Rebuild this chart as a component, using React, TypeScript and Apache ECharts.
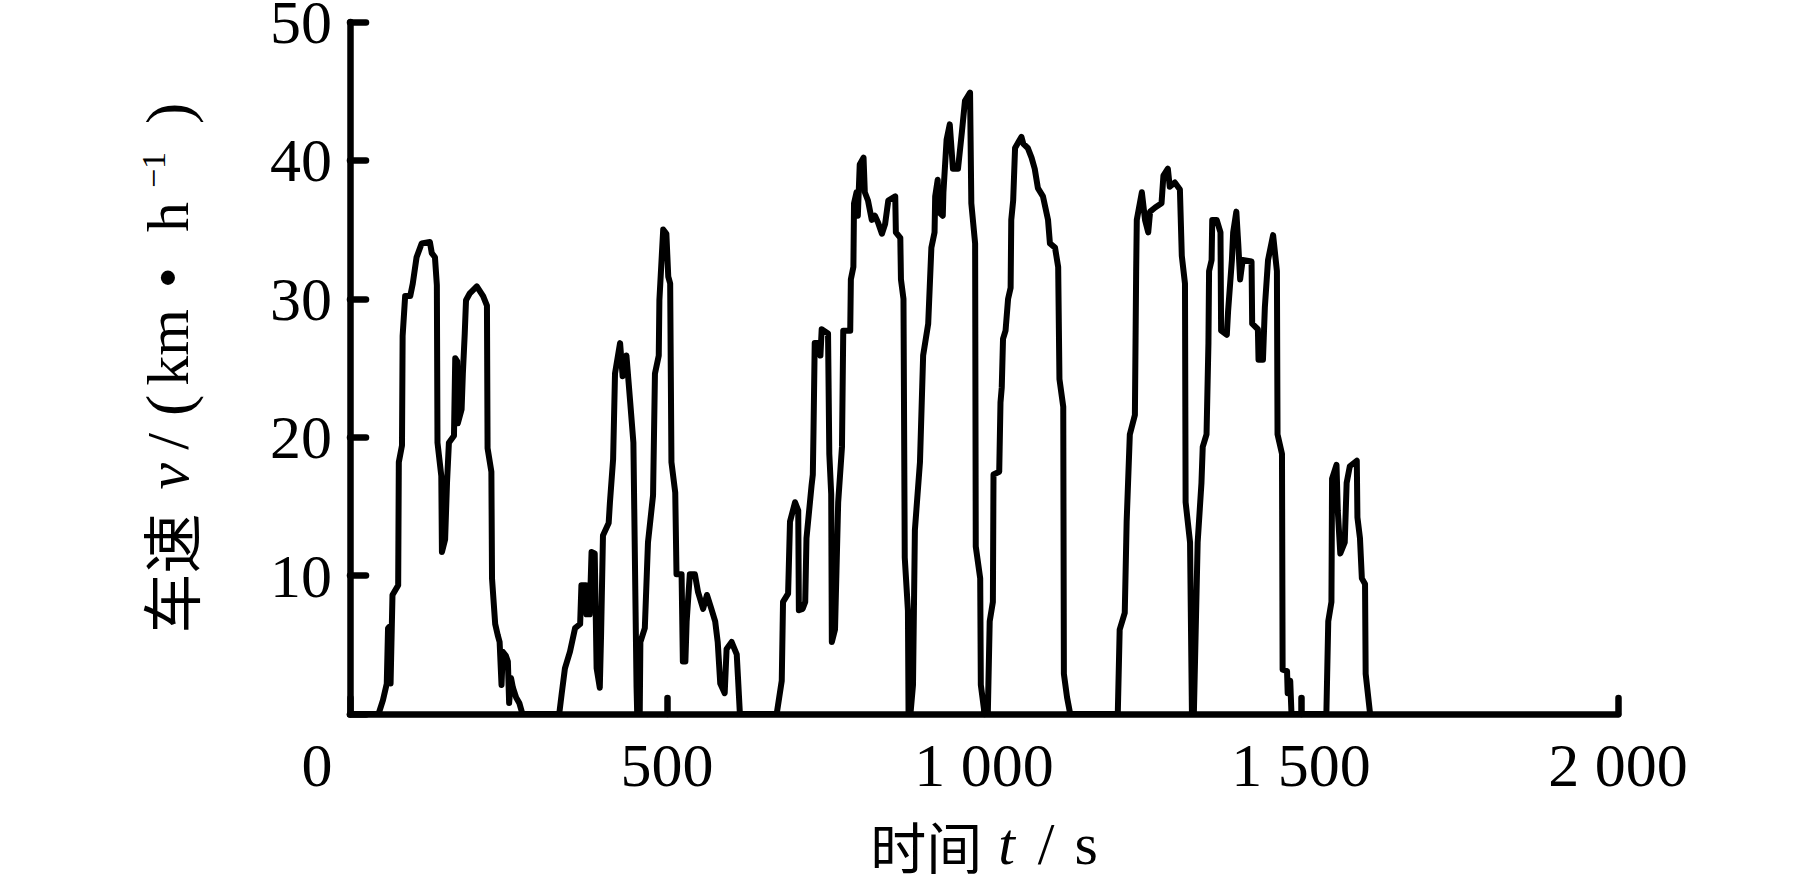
import React, { useEffect, useRef } from 'react';
import * as echarts from 'echarts';

// Driving-cycle speed trace, [time s, speed km/h], one array per trip
const trip1: [number, number][] = [
  [0, 0], [45, 0], [52, 1], [58, 2.2], [60, 6.2], [62, 6.3], [64, 2.2], [67, 8.6], [76, 9.3], [77, 18.2],
  [82, 19.4], [83, 27.3], [87, 30.2], [95, 30.2], [99, 31.1], [105, 33], [113, 34], [126, 34.1], [129, 33.3], [134, 33],
  [137, 31], [138, 19.6], [144, 17.2], [145, 11.7], [150, 12.6], [153, 16.7], [156, 19.6], [164, 20.1], [166, 25.7], [169, 25.5],
  [170, 21], [176, 22], [178, 24.6], [181, 27.5], [183, 29.9], [189, 30.4], [200, 30.9], [210, 30.2], [216, 29.5], [217, 19.2],
  [223, 17.5], [224, 9.8], [229, 6.5], [233, 5.7], [236, 5.2], [239, 2.1], [241, 4.5], [246, 4.2], [249, 3.8], [251, 0.8],
  [254, 2.6], [257, 1.9], [262, 1.2], [267, 0.8], [272, 0],
];
const trip2: [number, number][] = [
  [330, 0], [334, 1.5], [339, 3.3], [347, 4.5], [355, 6.2], [363, 6.5], [365, 9.3], [372, 9.3], [373, 7.2], [378, 7.2],
  [381, 11.7], [386, 11.6], [389, 3.3], [394, 1.9], [396, 5.7], [399, 12.9], [408, 13.8], [410, 15.3], [415, 18.4], [418, 24.6],
  [426, 26.8], [430, 24.4], [436, 25.9], [442, 22.5], [447, 19.6], [452, 1.9], [453, 0], [457, 0], [458, 5.2], [465, 6.2],
  [470, 12.4], [478, 15.8], [481, 24.6], [487, 25.9], [488, 29.9], [494, 35], [499, 34.7], [502, 31.6], [505, 31.1], [507, 18.2],
  [513, 16], [515, 10.1], [523, 10.1], [525, 3.8], [529, 3.8], [531, 6.7], [536, 10.1], [544, 10.1], [549, 8.8], [557, 7.6],
  [563, 8.6], [570, 7.6], [576, 6.7], [580, 5.2], [584, 2.2], [591, 1.5], [594, 4.7], [602, 5.2], [610, 4.3], [612, 2.6],
  [615, 0],
];
const trip3: [number, number][] = [
  [673, 0], [681, 2.4], [683, 8.1], [691, 8.7], [692, 10.4], [694, 13.9], [702, 15.3], [707, 14.7], [708, 7.5], [714, 7.6],
  [718, 8.1], [720, 12.7], [728, 16.5], [730, 17.3], [731, 20.2], [733, 26.8], [741, 26.8], [742, 25.9], [744, 27.8], [754, 27.5],
  [756, 18.8], [759, 15.9], [760, 5.2], [765, 6.1], [770, 15.3], [776, 19.3], [778, 27.7], [789, 27.7], [790, 31.4], [794, 32.3],
  [795, 36.9], [799, 37.7], [801, 36], [804, 39.7], [810, 40.2], [812, 37.7], [817, 37.1], [823, 35.7], [828, 36], [833, 35.5],
  [839, 34.7], [844, 35.4], [849, 37.1], [860, 37.4], [861, 34.8], [868, 34.4], [869, 31.4], [873, 30], [875, 11.3], [880, 7.5],
  [881, 0],
];
const trip4: [number, number][] = [
  [884, 0], [888, 2.1], [891, 13.3], [899, 18.2], [904, 25.9], [912, 28.2], [917, 33.7], [922, 34.8], [923, 37.4], [927, 38.6],
  [928, 36.3], [935, 36], [936, 37.7], [941, 41.5], [946, 42.6], [951, 39.4], [959, 39.4], [965, 42], [970, 44.3], [978, 44.9],
  [980, 36.9], [986, 34], [987, 12.1], [994, 9.8], [995, 2.1], [1001, 0],
];
const trip5: [number, number][] = [
  [1006, 0], [1009, 6.7], [1014, 8.1], [1015, 17.3], [1024, 17.5], [1026, 22.5], [1028, 23.6], [1030, 27.1], [1034, 27.7], [1038, 30],
  [1042, 30.8], [1043, 35.7], [1046, 37.1], [1049, 40.9], [1059, 41.7], [1062, 41.2], [1069, 40.9], [1075, 40.2], [1080, 39.4], [1085, 38],
  [1093, 37.4], [1101, 35.7], [1104, 34], [1112, 33.7], [1117, 32.3], [1119, 24.2], [1125, 22.2], [1126, 2.9], [1131, 1.2], [1136, 0],
];
const trip6: [number, number][] = [
  [1211, 0], [1214, 6.1], [1222, 7.3], [1225, 13.9], [1230, 20.2], [1238, 21.6], [1240, 32], [1241, 35.7], [1249, 37.7], [1254, 35.7],
  [1259, 34.8], [1262, 36.3], [1270, 36.6], [1280, 36.9], [1283, 38.9], [1290, 39.4], [1293, 38.1], [1301, 38.4], [1309, 37.9], [1312, 33.1],
  [1317, 31.1], [1318, 15.3], [1325, 12.4], [1328, 0],
];
const trip7: [number, number][] = [
  [1331, 0], [1337, 12.4], [1343, 16.7], [1345, 19.3], [1351, 20.2], [1354, 26.8], [1355, 32], [1359, 32.8], [1360, 35.7], [1367, 35.7],
  [1373, 34.8], [1374, 27.7], [1383, 27.4], [1385, 29.1], [1391, 32.8], [1393, 34.8], [1398, 36.3], [1401, 34], [1404, 31.4], [1408, 32.8],
  [1422, 32.7], [1423, 28.2], [1432, 27.8], [1433, 25.6], [1440, 25.6], [1443, 29.4], [1448, 32.8], [1456, 34.6], [1462, 32], [1463, 20.2],
  [1470, 18.8], [1471, 3.2], [1478, 3.1], [1479, 1.5], [1483, 2.4], [1485, 0],
];
const trip8: [number, number][] = [
  [1540, 0], [1543, 6.7], [1548, 8.1], [1549, 17], [1556, 18], [1558, 14.7], [1562, 11.6], [1569, 12.4], [1572, 16.7], [1577, 17.9],
  [1588, 18.3], [1589, 14.2], [1593, 12.7], [1596, 9.8], [1601, 9.4], [1602, 2.9], [1609, 0],
];

const xTickValues = [0, 500, 1000, 1500, 2000];
const xTickLabels = ['0', '500', '1 000', '1 500', '2 000'];
const yTickValues = [0, 10, 20, 30, 40, 50];
const yTickLabels = ['', '10', '20', '30', '40', '50'];

const LATIN = "'Liberation Serif', 'Times New Roman', serif";
const CJK = "'Noto Sans CJK SC', sans-serif";
const TICK_FONT = 62;

export default function App() {
  const ref = useRef<HTMLDivElement>(null);

  useEffect(() => {
    if (!ref.current) return;
    const chart = echarts.init(ref.current, null, { renderer: 'svg' });
    const data = [...trip1, ...trip2, ...trip3, ...trip4, ...trip5, ...trip6, ...trip7, ...trip8];

    const latin = (size: number, lh: number, extra: any = {}) => ({
      fontFamily: LATIN, fontSize: size, color: '#000', lineHeight: lh, ...extra,
    });

    chart.setOption({
      animation: false,
      backgroundColor: '#fff',
      grid: {
        left: 350, right: 201, top: 22, bottom: 169,
        containLabel: false, outerBoundsMode: 'none',
      },
      xAxis: {
        type: 'value', min: 0, max: 2000, interval: 500,
        axisLine: { show: true, onZero: false, lineStyle: { color: '#000', width: 6.5 } },
        axisTick: { show: true, inside: true, length: 16, lineStyle: { color: '#000', width: 6.5, cap: 'round' } },
        splitLine: { show: false },
        axisLabel: {
          margin: 20, color: '#000', fontFamily: LATIN, fontSize: TICK_FONT, lineHeight: TICK_FONT,
          formatter: (v: number) => {
            const i = xTickValues.indexOf(v);
            const s = i >= 0 ? xTickLabels[i] : '';
            return v === 0 ? '{z|' + s + '}' : s;
          },
          rich: { z: { fontFamily: LATIN, fontSize: TICK_FONT, lineHeight: TICK_FONT, color: '#000', padding: [0, 66, 0, 0] } },
        },
        name: '{cn|时间}{t|t}{sl|/}{s|s}',
        nameLocation: 'middle',
        nameGap: 101,
        nameMoveOverlap: false,
        nameTextStyle: {
          rich: {
            cn: { fontFamily: CJK, fontSize: 56, lineHeight: 58, color: '#000', padding: [0, 16, 0, 0] },
            t: latin(60, 58, { fontStyle: 'italic', padding: [0, 23, 0, 0] }),
            sl: latin(60, 58, { padding: [0, 20, 0, 0] }),
            s: latin(60, 58),
          },
        },
      },
      yAxis: {
        type: 'value', min: 0, max: 50, interval: 10,
        axisLine: { show: true, lineStyle: { color: '#000', width: 6.5 } },
        axisTick: { show: true, inside: true, length: 16, lineStyle: { color: '#000', width: 6.5, cap: 'round' } },
        splitLine: { show: false },
        axisLabel: {
          margin: 18, color: '#000', fontFamily: LATIN, fontSize: TICK_FONT, lineHeight: TICK_FONT,
          formatter: (v: number) => {
            const i = yTickValues.indexOf(v);
            return i >= 0 ? yTickLabels[i] : '';
          },
        },
        name: '{cn|车速}{v|v}{sl|/}{pl|(}{km|km}{dot|•}{h|h}{sup|−1}{pr|)}',
        nameLocation: 'middle',
        nameGap: 150,
        nameMoveOverlap: false,
        nameTextStyle: {
          rich: {
            cn: { fontFamily: CJK, fontSize: 60, lineHeight: 64, color: '#000' },
            v: latin(60, 64, { fontStyle: 'italic', padding: [0, 13, 0, 24] }),
            sl: latin(60, 64, { padding: [0, 17, 0, 0] }),
            pl: latin(64, 64, { padding: [0, 9, 0, 0] }),
            km: latin(60, 64, { padding: [0, 21, 0, 0] }),
            dot: latin(60, 64, { padding: [0, 35, 0, 0] }),
            h: latin(60, 64, { padding: [0, 14, 0, 0] }),
            sup: latin(34, 34, { verticalAlign: 'top', padding: [0, 28, 0, 0] }),
            pr: latin(64, 64),
          },
        },
      },
      series: [
        {
          type: 'line',
          data,
          symbol: 'none',
          showSymbol: false,
          clip: false,
          z: 3,
          lineStyle: { color: '#000', width: 6, join: 'round', cap: 'round' },
        },
      ],
    });

    return () => chart.dispose();
  }, []);

  return (
    <div
      ref={ref}
      style={{ position: 'fixed', left: 0, top: 0, width: 1819, height: 883, background: '#fff' }}
    />
  );
}
